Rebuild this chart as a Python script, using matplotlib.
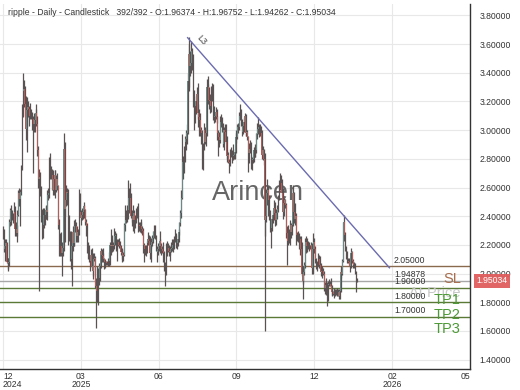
import matplotlib
matplotlib.use("Agg")
import matplotlib.pyplot as plt
import matplotlib.transforms as mtransforms
import numpy as np

plt.rcParams["font.family"] = ["Liberation Sans", "DejaVu Sans"]

# daily candles, 2024-12-25 .. 2026-01-20 (392 bars), open = previous close
first_open = 2.27
close = [
    # 2024-12
    2.29, 2.17, 2.19, 2.21, 2.08, 2.07, 2.08,
    # 2025-01
    2.36, 2.44, 2.42, 2.40, 2.39, 2.43, 2.31, 2.31, 2.28, 2.41, 2.56, 2.52, 2.57, 2.73, 3.14, 3.27,
    3.29, 3.18, 3.01, 3.14, 3.16, 3.15, 3.10, 3.11, 3.12, 3.02, 3.08, 3.04, 3.07, 3.12, 3.04,
    # 2025-02
    2.86, 2.66, 2.67, 2.59, 2.41, 2.34, 2.34, 2.41, 2.41, 2.44, 2.43, 2.55, 2.56, 2.78, 2.73, 2.69,
    2.69, 2.58, 2.66, 2.69, 2.58, 2.66, 2.61, 2.34, 2.23, 2.19, 2.19, 2.14,
    # 2025-03
    2.18, 2.87, 2.45, 2.51, 2.57, 2.56, 2.38, 2.28, 2.10, 2.10, 2.19, 2.29, 2.21, 2.33, 2.33, 2.26,
    2.29, 2.27, 2.53, 2.43, 2.39, 2.41, 2.43, 2.47, 2.44, 2.36, 2.33, 2.18, 2.14, 2.11, 2.09,
    # 2025-04
    2.13, 2.05, 2.02, 2.10, 2.11, 1.91, 1.88, 1.81, 2.02, 1.97, 2.05, 2.16, 2.13, 2.12, 2.10, 2.08,
    2.08, 2.07, 2.07, 2.08, 2.09, 2.20, 2.19, 2.20, 2.19, 2.20, 2.26, 2.27, 2.22, 2.20,
    # 2025-05
    2.22, 2.20, 2.19, 2.15, 2.14, 2.12, 2.13, 2.34, 2.37, 2.41, 2.40, 2.44, 2.53, 2.53, 2.40, 2.40,
    2.37, 2.42, 2.37, 2.37, 2.43, 2.42, 2.34, 2.34, 2.33, 2.33, 2.31, 2.30, 2.20, 2.17, 2.17,
    # 2025-06
    2.17, 2.21, 2.24, 2.23, 2.14, 2.20, 2.22, 2.25, 2.29, 2.27, 2.25, 2.18, 2.15, 2.17, 2.19, 2.23,
    2.19, 2.17, 2.16, 2.14, 2.03, 2.03, 2.18, 2.18, 2.18, 2.16, 2.15, 2.17, 2.18, 2.20,
    # 2025-07
    2.18, 2.24, 2.27, 2.21, 2.21, 2.24, 2.29, 2.35, 2.42, 2.53, 2.78, 2.72, 2.83, 2.92, 2.94, 2.98,
    3.34, 3.53, 3.45, 3.47, 3.55, 3.52, 3.22, 3.12, 3.17, 3.20, 3.25, 3.12, 3.09, 3.07, 3.00,
    # 2025-08
    2.98, 2.76, 2.88, 3.00, 2.92, 2.98, 3.30, 3.30, 3.21, 3.20, 3.17, 3.26, 3.27, 3.11, 3.09, 3.10,
    3.13, 3.09, 2.98, 2.95, 2.93, 3.06, 3.08, 3.03, 2.90, 3.00, 2.99, 2.92, 2.82, 2.83, 2.78,
    # 2025-09
    2.77, 2.85, 2.84, 2.80, 2.82, 2.83, 2.85, 2.95, 2.95, 3.02, 3.02, 3.10, 3.14, 3.06, 2.99, 3.03,
    3.06, 3.10, 2.98, 2.99, 2.95, 2.84, 2.87, 2.90, 2.76, 2.79, 2.80, 2.86, 2.86, 2.86,
    # 2025-10
    2.97, 3.01, 3.02, 2.98, 3.00, 2.98, 2.83, 2.86, 2.80, 2.37, 2.40, 2.56, 2.58, 2.51, 2.40, 2.33,
    2.32, 2.38, 2.41, 2.46, 2.42, 2.37, 2.42, 2.45, 2.52, 2.63, 2.63, 2.63, 2.56, 2.43, 2.49,
    # 2025-11
    2.51, 2.48, 2.28, 2.23, 2.28, 2.24, 2.34, 2.29, 2.34, 2.56, 2.43, 2.38, 2.40, 2.27, 2.26, 2.26,
    2.21, 2.24, 2.17, 2.00, 1.95, 2.01, 2.06, 2.22, 2.19, 2.21, 2.20, 2.19, 2.19, 2.20,
    # 2025-12
    2.04, 2.17, 2.22, 2.17, 2.10, 2.04, 2.07, 2.08, 2.10, 2.06, 2.01, 2.02, 2.02, 2.00, 1.90, 1.92,
    1.87, 1.82, 1.92, 1.93, 1.93, 1.91, 1.87, 1.87, 1.86, 1.86, 1.87, 1.87, 1.86, 1.87, 1.84,
    # 2026-01
    1.88, 2.01, 2.00, 2.09, 2.36, 2.27, 2.18, 2.13, 2.09, 2.09, 2.08, 2.05, 2.14, 2.15, 2.09, 2.06,
    2.06, 2.01, 1.96374, 1.95034,
]
high = [
    2.33, 2.31, 2.24, 2.24, 2.22, 2.11, 2.11,
    2.38, 2.46, 2.48, 2.44, 2.42, 2.50, 2.47, 2.36, 2.34, 2.44, 2.58, 2.60, 2.59, 2.76, 3.18, 3.40,
    3.35, 3.31, 3.24, 3.23, 3.21, 3.20, 3.17, 3.19, 3.15, 3.13, 3.10, 3.12, 3.11, 3.15, 3.18,
    3.10, 2.89, 2.73, 2.71, 2.61, 2.45, 2.46, 2.46, 2.44, 2.48, 2.47, 2.58, 2.60, 2.81, 2.84, 2.75,
    2.73, 2.72, 2.69, 2.72, 2.72, 2.69, 2.70, 2.62, 2.38, 2.28, 2.29, 2.22,
    2.22, 2.98, 2.92, 2.58, 2.62, 2.60, 2.59, 2.41, 2.30, 2.30, 2.25, 2.33, 2.34, 2.37, 2.38, 2.36,
    2.33, 2.31, 2.59, 2.56, 2.44, 2.46, 2.45, 2.50, 2.48, 2.45, 2.38, 2.35, 2.22, 2.20, 2.12,
    2.17, 2.18, 2.10, 2.14, 2.14, 2.12, 1.97, 2.05, 2.04, 2.07, 2.07, 2.18, 2.17, 2.18, 2.14, 2.11,
    2.10, 2.09, 2.09, 2.11, 2.15, 2.22, 2.31, 2.27, 2.24, 2.22, 2.32, 2.30, 2.28, 2.24,
    2.24, 2.25, 2.23, 2.20, 2.18, 2.17, 2.15, 2.35, 2.48, 2.44, 2.48, 2.65, 2.60, 2.63, 2.56, 2.44,
    2.43, 2.48, 2.44, 2.41, 2.46, 2.47, 2.49, 2.36, 2.36, 2.38, 2.36, 2.33, 2.32, 2.21, 2.20,
    2.20, 2.23, 2.29, 2.27, 2.26, 2.22, 2.25, 2.27, 2.30, 2.34, 2.34, 2.27, 2.19, 2.21, 2.22, 2.30,
    2.24, 2.21, 2.19, 2.22, 2.16, 2.08, 2.21, 2.23, 2.21, 2.20, 2.17, 2.19, 2.22, 2.24,
    2.24, 2.26, 2.31, 2.28, 2.24, 2.27, 2.31, 2.36, 2.44, 2.58, 2.97, 2.82, 2.89, 2.96, 3.00, 3.04,
    3.40, 3.65, 3.60, 3.55, 3.62, 3.57, 3.53, 3.28, 3.20, 3.24, 3.30, 3.33, 3.18, 3.15, 3.12,
    3.02, 3.00, 2.91, 3.05, 3.02, 3.00, 3.36, 3.38, 3.32, 3.30, 3.25, 3.31, 3.33, 3.32, 3.17, 3.13,
    3.16, 3.15, 3.10, 3.00, 2.99, 3.10, 3.11, 3.09, 3.05, 3.02, 3.04, 3.04, 2.96, 2.86, 2.85,
    2.80, 2.87, 2.88, 2.86, 2.90, 2.85, 2.87, 2.98, 3.00, 3.04, 3.05, 3.13, 3.18, 3.15, 3.08, 3.06,
    3.09, 3.12, 3.11, 3.01, 3.00, 2.96, 2.91, 2.93, 2.92, 2.81, 2.83, 2.88, 2.90, 2.89,
    2.98, 3.05, 3.09, 3.04, 3.04, 3.03, 3.00, 2.89, 2.87, 2.84, 2.45, 2.59, 2.66, 2.61, 2.55, 2.44,
    2.37, 2.39, 2.44, 2.51, 2.50, 2.44, 2.45, 2.48, 2.55, 2.65, 2.70, 2.69, 2.66, 2.60, 2.53,
    2.53, 2.52, 2.49, 2.33, 2.34, 2.31, 2.37, 2.35, 2.36, 2.62, 2.57, 2.46, 2.49, 2.42, 2.29, 2.30,
    2.28, 2.26, 2.26, 2.22, 2.03, 2.05, 2.08, 2.25, 2.26, 2.25, 2.23, 2.22, 2.20, 2.22,
    2.21, 2.19, 2.28, 2.25, 2.19, 2.11, 2.09, 2.14, 2.13, 2.12, 2.07, 2.05, 2.04, 2.04, 2.02, 1.94,
    1.97, 1.94, 1.95, 1.96, 1.95, 1.97, 1.92, 1.90, 1.88, 1.90, 1.89, 1.89, 1.90, 1.89, 1.89,
    1.89, 2.03, 2.05, 2.10, 2.36, 2.41, 2.29, 2.19, 2.16, 2.11, 2.11, 2.10, 2.15, 2.18, 2.16, 2.10,
    2.08, 2.07, 2.02, 1.96752,
]
low = [
    2.24, 2.15, 2.09, 2.16, 2.07, 2.02, 2.03,
    2.05, 2.33, 2.34, 2.37, 2.35, 2.38, 2.26, 2.26, 2.22, 2.26, 2.40, 2.47, 2.33, 2.55, 2.72, 3.09,
    3.16, 3.10, 2.93, 2.85, 3.02, 3.09, 3.03, 3.08, 3.08, 3.00, 2.70, 2.99, 2.99, 3.05, 3.03,
    2.82, 2.60, 1.88, 2.54, 2.36, 2.24, 2.25, 2.32, 2.34, 2.38, 2.38, 2.37, 2.51, 2.53, 2.66, 2.66,
    2.58, 2.55, 2.55, 2.63, 2.53, 2.57, 2.58, 2.31, 2.12, 2.12, 2.12, 1.98,
    2.12, 2.16, 2.40, 2.22, 2.47, 2.48, 2.20, 2.23, 2.09, 2.03, 1.91, 2.16, 2.19, 2.19, 2.29, 2.22,
    2.22, 2.22, 2.27, 2.40, 2.34, 2.37, 2.38, 2.40, 2.39, 2.34, 2.26, 2.14, 2.10, 2.08, 2.02,
    2.07, 2.04, 1.96, 1.98, 2.09, 1.90, 1.62, 1.80, 1.78, 1.92, 1.95, 2.04, 2.08, 2.09, 2.08, 2.03,
    2.04, 2.06, 2.06, 2.05, 2.05, 2.06, 2.13, 2.15, 2.16, 2.16, 2.17, 2.20, 2.16, 2.09,
    2.19, 2.18, 2.17, 2.13, 2.10, 2.08, 2.09, 2.12, 2.30, 2.35, 2.36, 2.38, 2.42, 2.48, 2.39, 2.36,
    2.33, 2.30, 2.28, 2.32, 2.35, 2.39, 2.29, 2.30, 2.29, 2.29, 2.28, 2.27, 2.14, 2.08, 2.13,
    2.12, 2.14, 2.20, 2.20, 2.10, 2.08, 2.18, 2.19, 2.21, 2.25, 2.24, 2.16, 2.08, 2.13, 2.16, 2.18,
    2.14, 2.13, 2.14, 2.08, 2.02, 1.91, 1.99, 2.12, 2.15, 2.12, 2.09, 2.13, 2.15, 2.16,
    2.15, 2.17, 2.22, 2.18, 2.17, 2.19, 2.22, 2.27, 2.33, 2.39, 2.52, 2.66, 2.70, 2.78, 2.86, 2.90,
    2.97, 3.30, 3.27, 3.38, 3.40, 3.42, 3.16, 3.00, 3.05, 3.11, 3.15, 3.08, 3.02, 2.96, 2.96,
    2.90, 2.73, 2.72, 2.86, 2.90, 2.89, 2.96, 3.20, 3.18, 3.15, 3.12, 3.13, 3.20, 3.07, 3.05, 3.06,
    3.08, 3.05, 2.93, 2.82, 2.88, 2.91, 3.02, 2.99, 2.88, 2.86, 2.96, 2.91, 2.80, 2.78, 2.77,
    2.70, 2.75, 2.81, 2.77, 2.79, 2.80, 2.80, 2.84, 2.91, 2.94, 2.98, 3.00, 3.07, 3.03, 2.96, 2.97,
    2.99, 3.04, 2.96, 2.96, 2.93, 2.71, 2.77, 2.84, 2.73, 2.72, 2.77, 2.78, 2.81, 2.81,
    2.84, 2.94, 2.97, 2.95, 2.96, 2.96, 2.80, 2.79, 2.76, 1.60, 2.26, 2.36, 2.48, 2.40, 2.37, 2.29,
    2.18, 2.30, 2.35, 2.37, 2.38, 2.33, 2.34, 2.38, 2.43, 2.51, 2.58, 2.57, 2.54, 2.38, 2.40,
    2.46, 2.46, 2.25, 2.06, 2.20, 2.21, 2.20, 2.25, 2.27, 2.33, 2.40, 2.35, 2.34, 2.20, 2.23, 2.22,
    2.17, 2.13, 2.14, 1.98, 1.82, 1.93, 1.99, 2.04, 2.14, 2.15, 2.17, 2.16, 2.17, 2.17,
    2.00, 2.00, 2.14, 2.14, 2.07, 2.03, 2.02, 2.05, 2.04, 2.03, 1.98, 1.97, 2.00, 1.99, 1.88, 1.86,
    1.85, 1.77, 1.81, 1.91, 1.91, 1.89, 1.85, 1.84, 1.85, 1.83, 1.84, 1.85, 1.84, 1.84, 1.82,
    1.82, 1.87, 1.97, 1.99, 2.08, 2.23, 2.16, 2.10, 2.07, 2.07, 2.06, 2.01, 2.04, 2.10, 2.07, 2.04,
    2.04, 2.00, 1.87, 1.94262,
]

level_values = [2.05, 1.94878, 1.90, 1.80, 1.70]
level_labels = ["2.05000", "1.94878", "1.90000", "1.80000", "1.70000"]
level_tags = ["SL", "At Price", "TP1", "TP2", "TP3"]
level_colors = ["#8a6a4e", "#a8a8a8", "#5b7a36", "#5b7a36", "#5b7a36"]
tag_colors = ["#a86e4e", "#c8c8c8", "#4c9a35", "#4c9a35", "#4c9a35"]

trend_x = [204, 427]
trend_y = [3.645, 2.04]

x_ticks = [0, 86, 172, 258, 344, 430, 516]
x_labels = ["12\n2024", "03\n2025", "06", "09", "12", "02\n2026", "05"]
y_ticks = [1.4, 1.6, 1.8, 2.0, 2.2, 2.4, 2.6, 2.8, 3.0, 3.2, 3.4, 3.6, 3.8]

c = np.array(close)
o = np.r_[first_open, c[:-1]]
h = np.maximum(np.array(high), np.maximum(o, c))
lo = np.minimum(np.array(low), np.minimum(o, c))
idx = np.arange(len(c))
up = c >= o

fig = plt.figure(figsize=(5.2, 3.9), dpi=100)
ax = fig.add_axes([0.0, 21 / 390, 470 / 520, 365 / 390])

ax.grid(True, color="#e8e8e8", lw=0.8, zorder=0)
ax.set_axisbelow(True)

ax.vlines(idx, lo, h, color="#5a5252", lw=0.9, zorder=3)
ax.bar(idx[up], (c - o)[up], bottom=o[up], width=0.75, color="#6a8984", zorder=4)
ax.bar(idx[~up], (o - c)[~up], bottom=c[~up], width=0.75, color="#b85a56", zorder=4)

ax.text(0.549, 0.482, "Arincen", transform=ax.transAxes, ha="center", va="center",
        fontsize=19.5, color="#555555", alpha=0.9, zorder=2)

ax.plot(trend_x, trend_y, color="#6b6bb0", lw=1.0, zorder=5)
ax.text(219, 3.63, "L3", rotation=-48, ha="center", va="center", fontsize=6.5,
        color="#444444", zorder=5)

for val, lab, tag, lc, tc in zip(level_values, level_labels, level_tags, level_colors, tag_colors):
    ax.axhline(val, color=lc, lw=1.0, zorder=2)
    ax.annotate(lab, (432, val), xytext=(0, 1), textcoords="offset points",
                ha="left", va="bottom", fontsize=6.2, color="#333333", zorder=6)
    ax.annotate(tag, (506, val), xytext=(0, -4), textcoords="offset points",
                ha="right", va="top", fontsize=10.5, color=tc, zorder=6)

ax.text(0.017, 0.978, "ripple - Daily - Candlestick   392/392 - O:1.96374 - H:1.96752 - L:1.94262 - C:1.95034",
        transform=ax.transAxes, ha="left", va="center", fontsize=6.2, color="#333333", zorder=7)

trans = mtransforms.blended_transform_factory(ax.transAxes, ax.transData)
ax.text(1.013, close[-1], "%.5f" % close[-1], transform=trans, ha="left", va="center",
        fontsize=6.2, color="white", zorder=8, clip_on=False,
        bbox=dict(boxstyle="square,pad=0.3", fc="#e05d5d", ec="none", alpha=0.95))

ax.set_xlim(-3.3, 516)
ax.set_ylim(1.334, 3.88)
ax.set_xticks(x_ticks)
ax.set_xticklabels(x_labels, fontsize=6.2, color="#333333", linespacing=0.95)
tl = ax.get_xticklabels()
tl[0].set_ha("left")
tl[-1].set_ha("right")
ax.yaxis.tick_right()
ax.set_yticks(y_ticks)
ax.set_yticklabels(["%.5f" % v for v in y_ticks], fontsize=6.2, color="#333333")
ax.tick_params(axis="both", length=0)
ax.tick_params(axis="y", pad=7)
ax.tick_params(axis="x", pad=2)

for side in ["left", "top"]:
    ax.spines[side].set_visible(False)
for side in ["right", "bottom"]:
    ax.spines[side].set_color("#333333")
    ax.spines[side].set_linewidth(1.0)

fig.savefig("out.png", dpi=100)
